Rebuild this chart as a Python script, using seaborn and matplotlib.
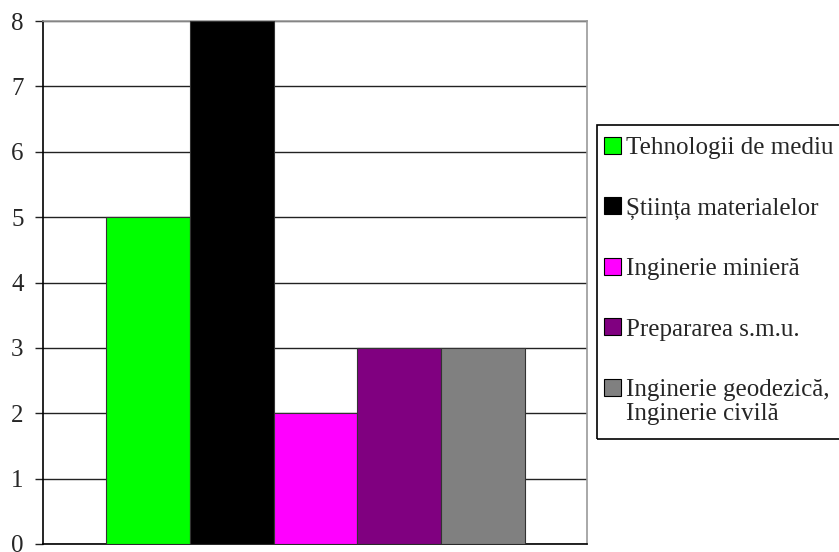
import matplotlib
matplotlib.use("Agg")
import matplotlib.pyplot as plt
import seaborn as sns
import pandas as pd
from matplotlib.patches import Rectangle, Patch

categories = ["Tehnologii de mediu", "Știința materialelor", "Inginerie minieră",
              "Prepararea s.m.u.", "Inginerie geodezică,\nInginerie civilă"]
values = [5, 8, 2, 3, 3]
colors = ["#00FF00", "#000000", "#FF00FF", "#800080", "#808080"]
y_ticks = [0, 1, 2, 3, 4, 5, 6, 7, 8]

sns.set_theme(style="white")
plt.rcParams['font.family'] = ['Liberation Serif', 'DejaVu Serif']

W, H = 839, 552
FS = 18
fig = plt.figure(figsize=(W / 100, H / 100), dpi=100)
ax = fig.add_axes([43 / W, (H - 544) / H, 544 / W, (544 - 21) / H])

df = pd.DataFrame({"cat": categories, "val": values})
sns.barplot(data=df, x="cat", y="val", hue="cat", palette=colors, dodge=False,
            saturation=1, width=1.0, legend=False, ax=ax,
            edgecolor="#333333", linewidth=0.8, zorder=3)

ax.set_xlim(-0.5 - 63 / 84, 4.5 + 62 / 84)
ax.set_ylim(0, 8)
ax.set_yticks(y_ticks)
ax.set_yticklabels([str(t) for t in y_ticks], fontsize=FS)
ax.set_xticks([])
ax.set_xlabel("")
ax.set_ylabel("")
ax.yaxis.grid(True, color="#222222", linewidth=1.0, zorder=0)
ax.set_axisbelow(True)
ax.tick_params(axis="y", left=True, length=6, width=1, color="#222222", pad=8,
               direction="out")
for side in ["left", "bottom"]:
    ax.spines[side].set_color("#000000")
    ax.spines[side].set_linewidth(1.2)
for side in ["top", "right"]:
    ax.spines[side].set_color("#999999")
    ax.spines[side].set_linewidth(1.2)

# legend: first line of each label next to the handle, extra lines below
first_lines = [c.split("\n")[0] for c in categories]
handles = [Patch(facecolor=c, edgecolor="#000000", linewidth=0.8) for c in colors]
leg = fig.legend(handles, first_lines, loc="upper left",
                 bbox_to_anchor=(604 / W, 1 - 137 / H), frameon=False,
                 fontsize=FS, labelspacing=1.53, handlelength=0.66, handleheight=0.66,
                 handletextpad=0.24, borderaxespad=0, borderpad=0)
fig.canvas.draw()
last_txt = leg.get_texts()[-1]
bb = last_txt.get_window_extent()
extra = "\n".join(categories[-1].split("\n")[1:])
fig.text(bb.x0 / W, (bb.y0 - 2) / H, extra, fontsize=FS, ha="left", va="top")

fig.add_artist(Rectangle((597 / W, 1 - 439 / H), (850 - 597) / W, (439 - 125) / H,
                         transform=fig.transFigure, fill=False,
                         edgecolor="#000000", linewidth=1.2, clip_on=False))

fig.savefig("out.png", dpi=100)
